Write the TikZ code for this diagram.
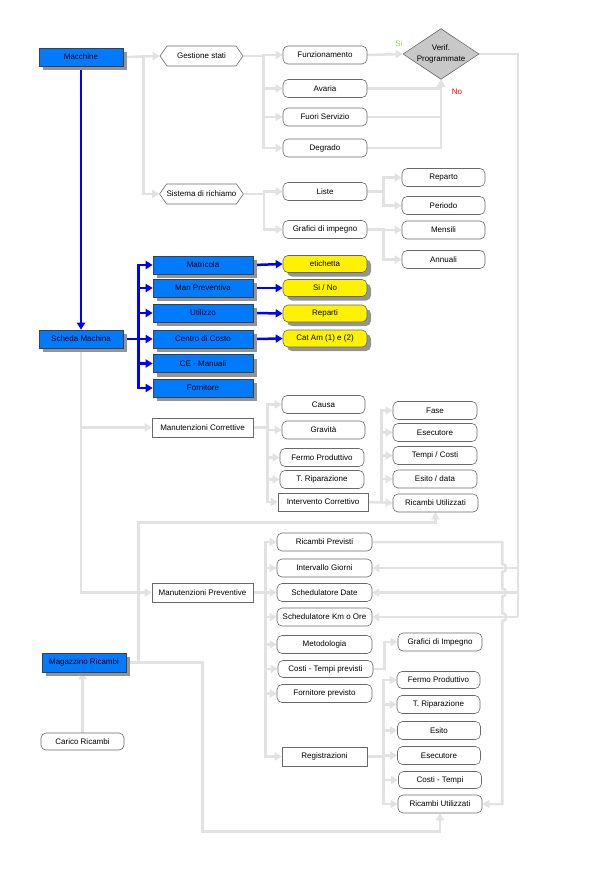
\documentclass[tikz,border=0pt]{standalone}
\usepackage{fontspec}
\setmainfont{Liberation Sans}
\usetikzlibrary{positioning,shapes.geometric,shapes.symbols,arrows.meta,shadows,calc,backgrounds}

\definecolor{mblue}{RGB}{0,122,255}
\definecolor{linkgray}{RGB}{226,226,226}
\definecolor{edgegray}{RGB}{105,105,105}
\definecolor{diagray}{RGB}{200,200,200}
\definecolor{sigreen}{RGB}{150,210,100}

\tikzset{
  box/.style={rectangle, draw=edgegray, line width=0.6pt, fill=white,
    minimum width=84pt, minimum height=18pt, inner sep=1pt,
    font=\fontsize{8}{9}\selectfont},
  roundbox/.style={box, rounded corners=5pt},
  boxshadow/.style={drop shadow={shadow xshift=4pt, shadow yshift=-4pt,
    fill=black!42, opacity=1}},
  bluebox/.style={box, fill=mblue, draw=black!75, boxshadow},
  yellowbox/.style={roundbox, fill=yellow, draw=black!60, boxshadow},
  hexbox/.style={box, signal, signal to=west and east, signal pointer angle=110,
    minimum width=83pt, minimum height=20pt, inner sep=0pt},
  decision/.style={diamond, draw=edgegray, line width=0.6pt, fill=diagray,
    minimum width=73pt, minimum height=49pt, inner sep=0pt, aspect=1.5,
    align=center, font=\fontsize{8}{11}\selectfont},
  grayline/.style={draw=linkgray, line width=2.5pt},
  graylink/.style={grayline, -{Triangle[length=7pt,width=8pt]}},
  bluelink/.style={draw=blue, line width=2.5pt, -{Triangle[length=7pt,width=8pt]}},
  tag/.style={font=\fontsize{8}{9}\selectfont, inner sep=0pt}
}

\begin{document}
\begin{tikzpicture}[x=1pt,y=-1pt]
\useasboundingbox (0,0) rectangle (615,870);

% Macchine
\node[bluebox] (macchine) at (81,57) {Macchine};
\node[hexbox] (gestione) at (201.5,56) {Gestione stati};
\node[hexbox] (sistema) at (201.5,194) {Sistema di richiamo};
\node[roundbox] (funz) at (325,55) {Funzionamento};
\node[roundbox] (avaria) at (325,88.5) {Avaria};
\node[roundbox] (fuori) at (325,117) {Fuori Servizio};
\node[roundbox] (degrado) at (325,148) {Degrado};
\node[roundbox] (liste) at (325,191.5) {Liste};
\node[roundbox] (grafici) at (325,229.5) {Grafici di impegno};
\node[roundbox, minimum width=83pt] (reparto) at (443.5,177.5) {Reparto};
\node[roundbox, minimum width=83pt] (periodo) at (443.5,205.5) {Periodo};
\node[roundbox, minimum width=83pt] (mensili) at (443.5,230) {Mensili};
\node[roundbox, minimum width=83pt] (annuali) at (443.5,259.5) {Annuali};
\node[decision] (verif) at (441,54) {Verif.\\Programmate};
\node[tag, text=sigreen] (silabel) at (399,44) {Si};
\node[tag, text=red] (nolabel) at (457,92) {No};

% Scheda
\node[bluebox] (scheda) at (81,339) {Scheda Machina};
\node[bluebox, minimum width=100pt] (matricola) at (203,265) {Matricola};
\node[bluebox, minimum width=100pt] (preventiva) at (203,288) {Man Preventiva};
\node[bluebox, minimum width=100pt] (utilizzo) at (203,313) {Utilizzo};
\node[bluebox, minimum width=100pt] (centro) at (203,339) {Centro di Costo};
\node[bluebox, minimum width=100pt] (ce) at (203,363.5) {CE - Manuali};
\node[bluebox, minimum width=100pt] (fornitore) at (203,388) {Fornitore};
\node[yellowbox, minimum height=17pt] (etichetta) at (325,264) {etichetta};
\node[yellowbox, minimum height=17pt] (sino) at (325,288) {Si / No};
\node[yellowbox, minimum height=17pt] (reparti) at (325,313.5) {Reparti};
\node[yellowbox, minimum height=17pt] (catam) at (325,338.5) {Cat Am (1) e (2)};

% Manutenzioni Correttive
\node[box, minimum width=101pt, minimum height=19pt] (mancorr) at (202.5,427.5) {Manutenzioni Correttive};
\node[roundbox, minimum width=83pt] (causa) at (323.5,404.5) {Causa};
\node[roundbox, minimum width=83pt] (gravita) at (323.5,430) {Gravità};
\node[roundbox] (fermo) at (322,457.5) {Fermo Produttivo};
\node[roundbox] (tripar) at (322,479.5) {T. Riparazione};
\node[box, minimum width=90pt] (intcorr) at (323,502) {Intervento Correttivo};
\node[roundbox] (fase) at (435,410.5) {Fase};
\node[roundbox] (esec) at (435,432.5) {Esecutore};
\node[roundbox] (tempi) at (435,455.5) {Tempi / Costi};
\node[roundbox] (esito) at (435,479) {Esito / data};
\node[roundbox, minimum width=85pt] (ricutil) at (435.5,503) {Ricambi Utilizzati};

% Manutenzioni Preventive
\node[box, minimum width=101pt, minimum height=19pt] (manprev) at (202.5,592.5) {Manutenzioni Preventive};
\node[roundbox, minimum width=95pt] (ricprev) at (324.5,542) {Ricambi Previsti};
\node[roundbox, minimum width=95pt] (intgiorni) at (324.5,568) {Intervallo Giorni};
\node[roundbox, minimum width=95pt] (scheddate) at (324.5,592.5) {Schedulatore Date};
\node[roundbox, minimum width=95pt] (schedkm) at (324.5,617) {Schedulatore Km o Ore};
\node[roundbox, minimum width=95pt] (metod) at (324.5,644.5) {Metodologia};
\node[roundbox, minimum width=95pt, minimum height=17pt] (costitp) at (325.5,669) {Costi - Tempi previsti};
\node[roundbox, minimum width=95pt] (fornprev) at (324.5,693.5) {Fornitore previsto};
\node[roundbox] (grafimp) at (440,642) {Grafici di Impegno};
\node[box, minimum width=85pt, minimum height=19pt] (registr) at (324.5,756.5) {Registrazioni};
\node[roundbox, minimum width=83pt, minimum height=17pt] (fermo2) at (438.5,680) {Fermo Produttivo};
\node[roundbox, minimum width=83pt] (tripar2) at (438.5,704.5) {T. Riparazione};
\node[roundbox, minimum width=83pt] (esito2) at (439,730.5) {Esito};
\node[roundbox, minimum width=83pt] (esec2) at (439,755.5) {Esecutore};
\node[roundbox, minimum width=83pt, minimum height=17pt] (costit2) at (440,780) {Costi - Tempi};
\node[roundbox] (ricutil2) at (440,804) {Ricambi Utilizzati};

% Magazzino
\node[bluebox, minimum height=19pt] (magazzino) at (84,662.5) {Magazzino Ricambi};
\node[roundbox, minimum width=83pt, minimum height=17pt] (carico) at (82.5,741.5) {Carico Ricambi};

\begin{pgfonlayer}{background}
\coordinate (rbus) at (518,617);
\draw[grayline] (verif.east) -| (rbus);
\draw[graylink] (rbus |- intgiorni.east) -- (intgiorni.east);
\draw[graylink] (rbus |- scheddate.east) -- (scheddate.east);
\draw[graylink] (rbus) -- (schedkm.east);
\draw[graylink] (ricprev.east) -- ++(130,0) -- ++(0,22)
  to[out=0,in=0,looseness=1.6] ++(0,8) -- ++(0,16.5)
  to[out=0,in=0,looseness=1.6] ++(0,8) -- ++(0,16.5)
  to[out=0,in=0,looseness=1.6] ++(0,8) |- (ricutil2.east);

\draw[graylink] (macchine.east) -- (gestione.west);
\draw[graylink] (macchine.east) -- ++(20,0) |- (sistema.west);
\foreach \n in {funz,avaria,fuori,degrado}
  \draw[graylink] (gestione.east) -- ++(20,0) |- (\n.west);
\foreach \n in {liste,grafici}
  \draw[graylink] (sistema.east) -- ++(20,0) |- (\n.west);
\foreach \n in {reparto,periodo}
  \draw[graylink] (liste.east) -- ++(16,0) |- (\n.west);
\foreach \n in {mensili,annuali}
  \draw[graylink] (grafici.east) -- ++(16,0) |- (\n.west);
\draw[graylink] (funz.east) -- (verif.west);
\foreach \n in {avaria,fuori,degrado}
  \draw[graylink] (\n.east) -| (verif.south);

\draw[graylink] (scheda.south) |- (mancorr.west);
\draw[graylink] (scheda.south) |- (manprev.west);
\foreach \n in {causa,gravita,fermo,tripar,intcorr}
  \draw[graylink] (mancorr.east) -- ++(14,0) |- (\n.west);
\foreach \n in {fase,esec,tempi,esito}
  \draw[graylink] (intcorr.east) -- ++(13,0) |- (\n.west);
\draw[graylink] (intcorr.east) -- (ricutil.west);
\foreach \n in {ricprev,intgiorni,scheddate,schedkm,metod,costitp,fornprev,registr}
  \draw[graylink] (manprev.east) -- ++(12,0) |- (\n.west);
\draw[graylink] (costitp.east) -- ++(11,0) |- (grafimp.west);
\foreach \n in {fermo2,tripar2,esito2,esec2,costit2,ricutil2}
  \draw[graylink] (registr.east) -- ++(16,0) |- (\n.west);
\draw[graylink] (magazzino.east) -- ++(12,0) -- ++(0,-140) -| (ricutil.south);
\draw[graylink] (magazzino.east) -- ++(76,0) -- ++(0,169) -| (ricutil2.south);
\draw[graylink] (carico.north) -- (carico.north |- magazzino.south);

% blue connectors
\draw[bluelink] (macchine.south) -- (scheda.north);
\foreach \n in {matricola,preventiva,utilizzo,centro,ce,fornitore}
  \draw[bluelink] (scheda.east) -- ++(15,0) |- (\n.west);
\draw[bluelink] (matricola.east) -- (etichetta.west);
\draw[bluelink] (preventiva.east) -- (sino.west);
\draw[bluelink] (utilizzo.east) -- (reparti.west);
\draw[bluelink] (centro.east) -- (catam.west);
\end{pgfonlayer}
\end{tikzpicture}
\end{document}
